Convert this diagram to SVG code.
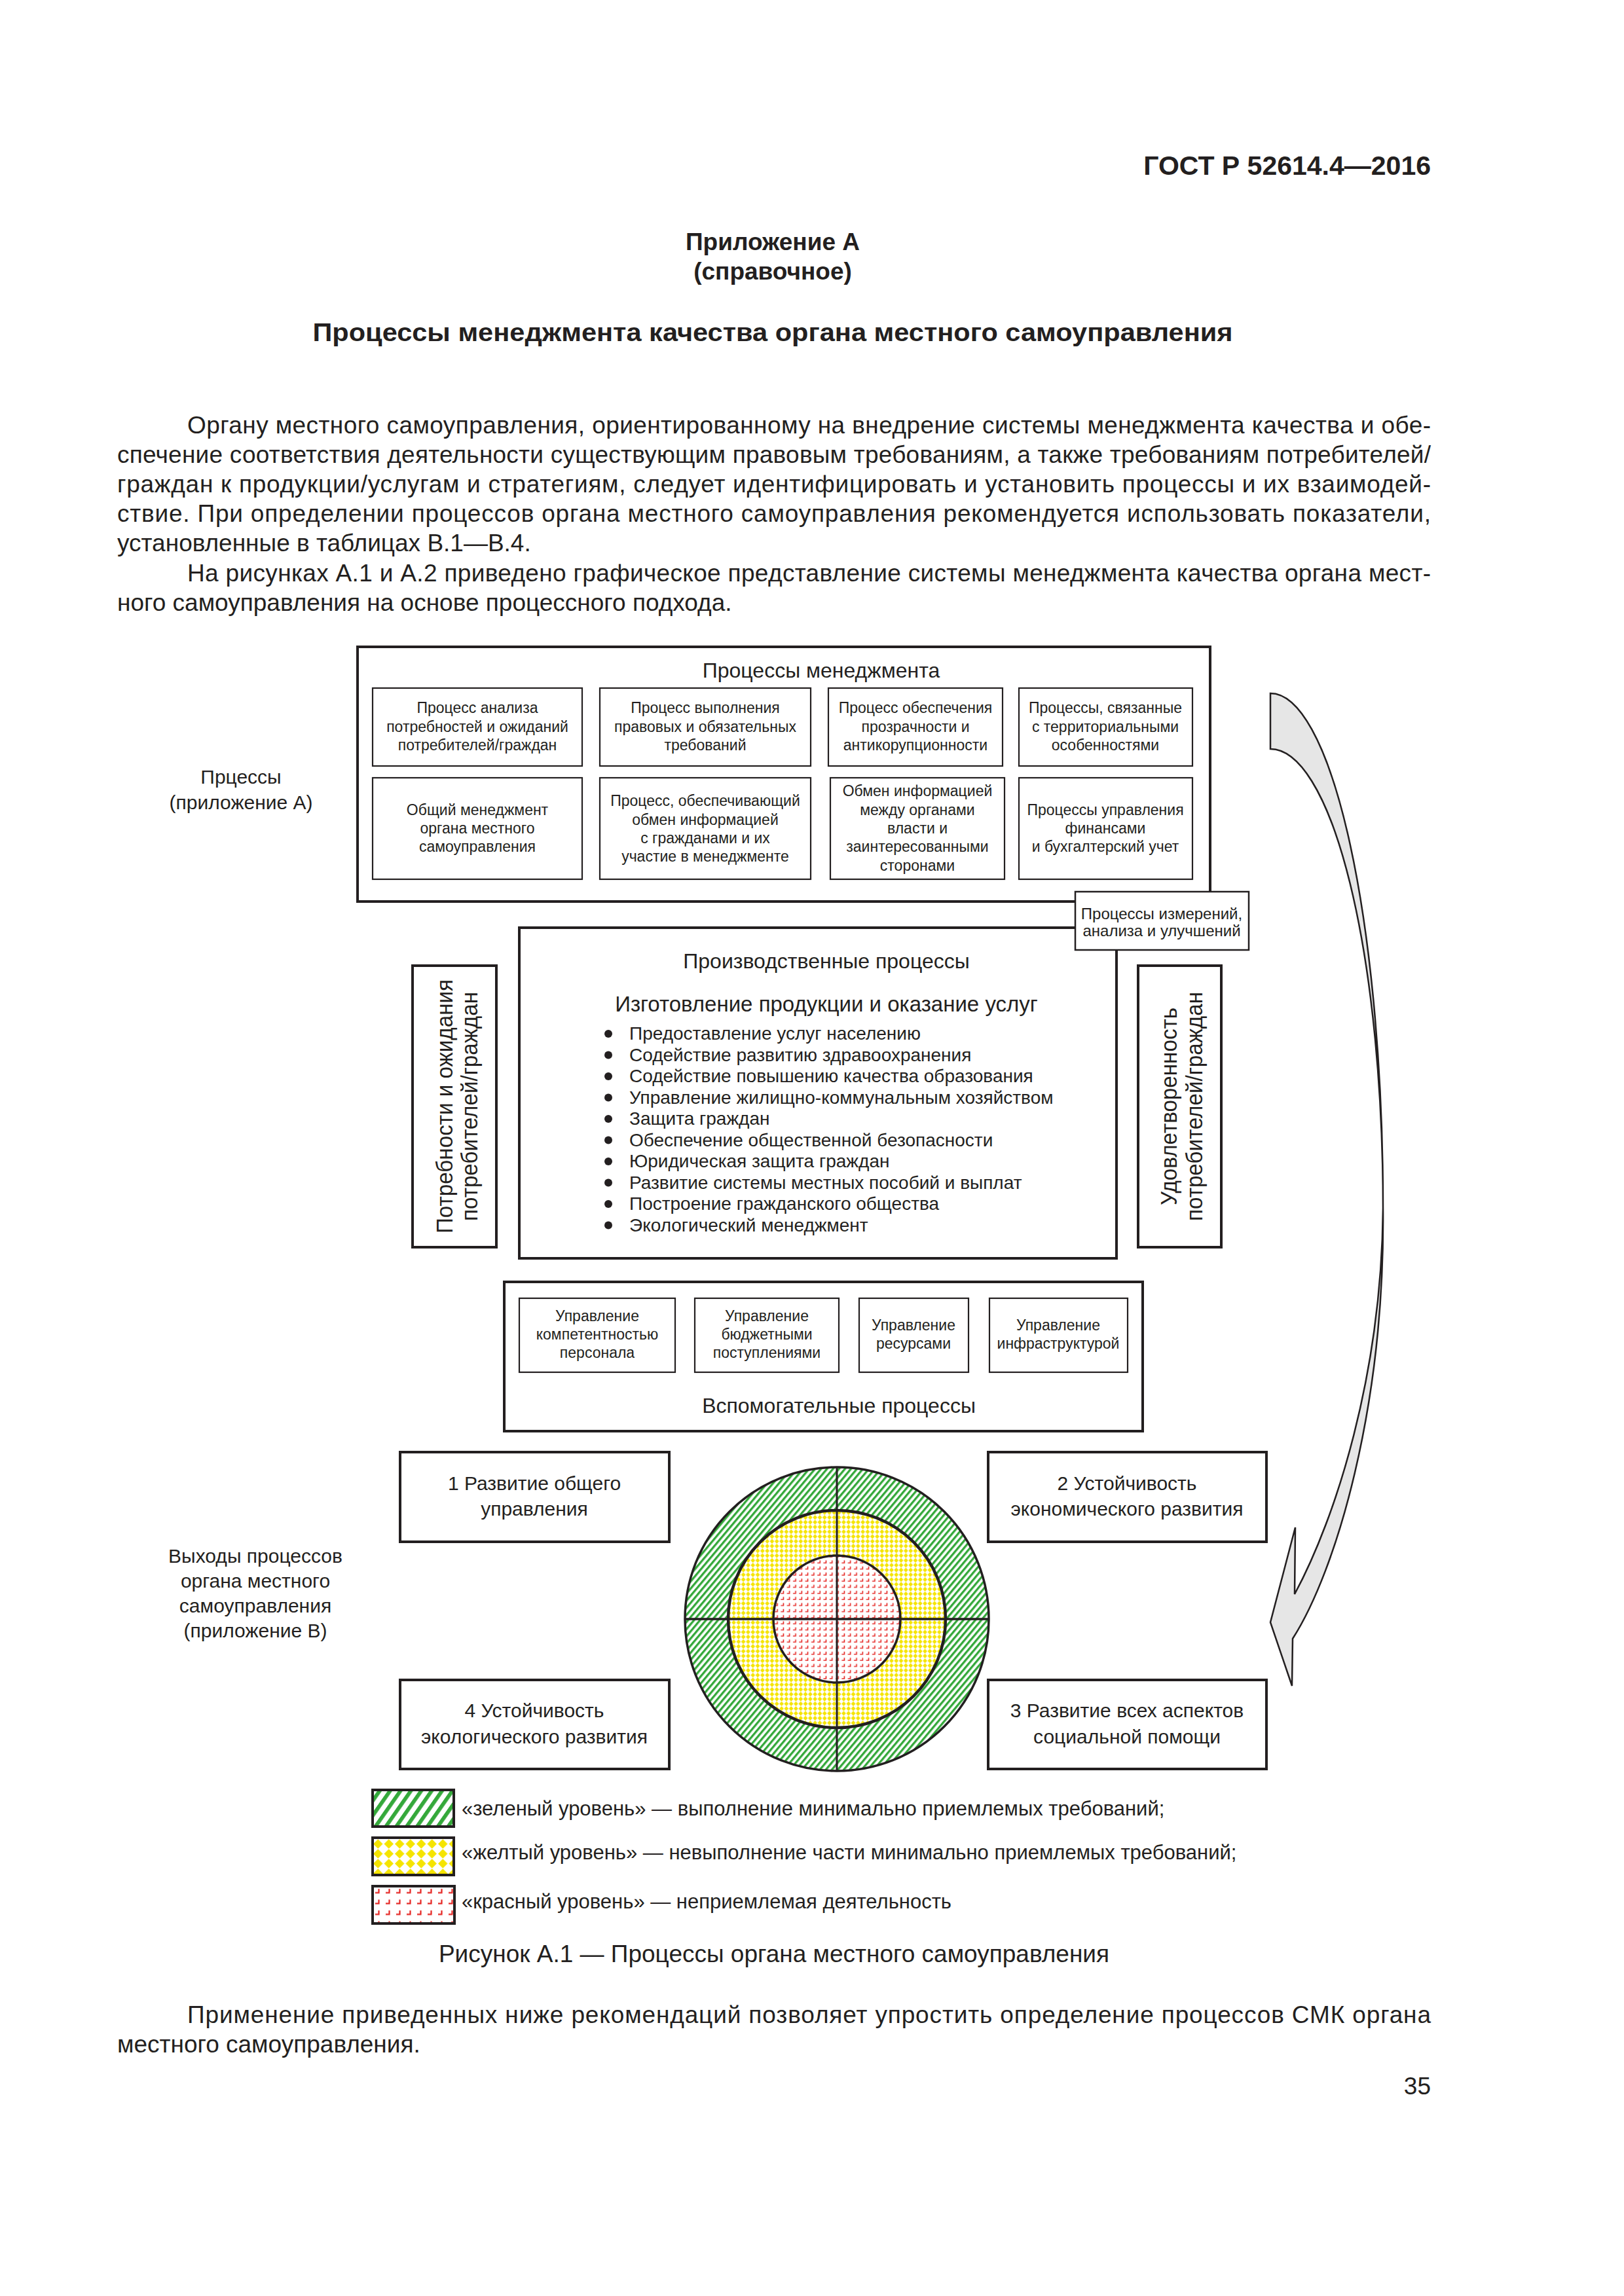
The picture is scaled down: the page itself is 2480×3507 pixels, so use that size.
<svg xmlns="http://www.w3.org/2000/svg" width="2480" height="3507" viewBox="0 0 2480 3507">
<style>
text{font-family:"Liberation Sans",Arial,Helvetica,sans-serif;fill:#231f20}
.m{text-anchor:middle}
.e{text-anchor:end}
.bd{font-weight:bold}
.f23{font-size:23px}
.f24{font-size:24px}
.f28{font-size:28px}
.f30{font-size:30px}
.f31{font-size:31px}
.f32{font-size:32px}
.f37{font-size:37px}
.big{fill:#fff;stroke:#231f20;stroke-width:4}
.sm{fill:#fff;stroke:#231f20;stroke-width:2.2}
.ln{stroke:#231f20;fill:none}
</style>
<defs>
<pattern id="pg" width="7" height="7" patternUnits="userSpaceOnUse" patternTransform="rotate(40)"><rect width="7" height="7" fill="#fff"/><rect width="3.3" height="7" fill="#34a83a"/></pattern>
<pattern id="pgL" width="13" height="13" patternUnits="userSpaceOnUse" patternTransform="rotate(35)"><rect width="13" height="13" fill="#fff"/><rect width="5.8" height="13" fill="#34a83a"/></pattern>
<pattern id="py" width="7.3" height="7.3" patternUnits="userSpaceOnUse"><rect width="7.3" height="7.3" fill="#fff"/><polygon points="3.65,0 7.1,3.65 3.65,7.3 0.2,3.65" fill="#f5e400"/></pattern>
<pattern id="pyL" width="16.5" height="15" patternUnits="userSpaceOnUse" x="569" y="2809"><rect width="16.5" height="15" fill="#fff"/><polygon points="8.25,0.3 15.5,7.5 8.25,14.7 1,7.5" fill="#f5e400"/></pattern>
<pattern id="pr" width="9.3" height="9.3" patternUnits="userSpaceOnUse"><rect width="9.3" height="9.3" fill="#fff"/><path d="M2,6.5 H6 V2.5" fill="none" stroke="#e52421" stroke-width="1.6"/></pattern>
<pattern id="prL" width="16" height="16.5" patternUnits="userSpaceOnUse" x="569" y="2880"><rect width="16" height="16.5" fill="#fff"/><path d="M4,11 H9.5 V5" fill="none" stroke="#e52421" stroke-width="2.2"/></pattern>
</defs>
<rect width="2480" height="3507" fill="#fff"/>

<g id="page-text">
<text class="bd e" x="2185" y="267" style="font-size:41px">ГОСТ Р 52614.4—2016</text>
<text class="bd m f37" x="1180" y="382">Приложение А</text>
<text class="bd m f37" x="1180" y="427">(справочное)</text>
<text class="bd m" x="1180" y="521" style="font-size:38px" textLength="1405" lengthAdjust="spacingAndGlyphs">Процессы менеджмента качества органа местного самоуправления</text>
<text class="f37" x="286" y="662" textLength="1899" lengthAdjust="spacing">Органу местного самоуправления, ориентированному на внедрение системы менеджмента качества и обе-</text>
<text class="f37" x="179" y="707" textLength="2006" lengthAdjust="spacing">спечение соответствия деятельности существующим правовым требованиям, а также требованиям потребителей/</text>
<text class="f37" x="179" y="752" textLength="2006" lengthAdjust="spacing">граждан к продукции/услугам и стратегиям, следует идентифицировать и установить процессы и их взаимодей-</text>
<text class="f37" x="179" y="797" textLength="2006" lengthAdjust="spacing">ствие. При определении процессов органа местного самоуправления рекомендуется использовать показатели,</text>
<text class="f37" x="179" y="842">установленные в таблицах В.1—В.4.</text>
<text class="f37" x="286" y="888" textLength="1899" lengthAdjust="spacing">На рисунках А.1 и А.2 приведено графическое представление системы менеджмента качества органа мест-</text>
<text class="f37" x="179" y="933">ного самоуправления на основе процессного подхода.</text>
<text class="f37" x="286" y="3090" textLength="1899" lengthAdjust="spacing">Применение приведенных ниже рекомендаций позволяет упростить определение процессов СМК органа</text>
<text class="f37" x="179" y="3135">местного самоуправления.</text>
<text class="f37 e" x="2185" y="3199">35</text>
<text class="f37 m" x="1182" y="2997">Рисунок А.1 — Процессы органа местного самоуправления</text>
</g>

<g id="connectors">
<path d="M1940,1059 A172,786 0 0 1 2112,1845 A172,701 0 0 0 1940,1144 Z" fill="#e6e6e6" stroke="#231f20" stroke-width="2.5" stroke-linejoin="miter"/>
<path d="M1974,2503 C2040,2400 2115,2150 2112,1845 C2110,2100 2040,2318 1977,2435 L1978,2333 L1940,2478 L1973,2575 Z" fill="#e6e6e6" stroke="#231f20" stroke-width="2.5"/>
</g>

<g id="label-processes">
<text class="f30 m" x="368" y="1197">Прцессы</text>
<text class="f30 m" x="368" y="1236">(приложение А)</text>
</g>

<g id="management">
<rect class="big" x="546" y="988" width="1302" height="389"/>
<text class="f32 m" x="1254" y="1035">Процессы менеджмента</text>
</g>
<g id="m1"><rect class="sm" x="569" y="1051" width="320" height="119"/>
<text class="f23 m" x="729" y="1089">Процесс анализа</text><text class="f23 m" x="729" y="1118">потребностей и ожиданий</text><text class="f23 m" x="729" y="1146">потребителей/граждан</text></g>
<g id="m2"><rect class="sm" x="916" y="1051" width="322" height="119"/>
<text class="f23 m" x="1077" y="1089">Процесс выполнения</text><text class="f23 m" x="1077" y="1118">правовых и обязательных</text><text class="f23 m" x="1077" y="1146">требований</text></g>
<g id="m3"><rect class="sm" x="1265" y="1051" width="266" height="119"/>
<text class="f23 m" x="1398" y="1089">Процесс обеспечения</text><text class="f23 m" x="1398" y="1118">прозрачности и</text><text class="f23 m" x="1398" y="1146">антикорупционности</text></g>
<g id="m4"><rect class="sm" x="1556" y="1051" width="265" height="119"/>
<text class="f23 m" x="1688" y="1089">Процессы, связанные</text><text class="f23 m" x="1688" y="1118">с территориальными</text><text class="f23 m" x="1688" y="1146">особенностями</text></g>
<g id="m5"><rect class="sm" x="569" y="1188" width="320" height="155"/>
<text class="f23 m" x="729" y="1245">Общий менеджмент</text><text class="f23 m" x="729" y="1273">органа местного</text><text class="f23 m" x="729" y="1301">самоуправления</text></g>
<g id="m6"><rect class="sm" x="916" y="1188" width="322" height="155"/>
<text class="f23 m" x="1077" y="1231">Процесс, обеспечивающий</text><text class="f23 m" x="1077" y="1260">обмен информацией</text><text class="f23 m" x="1077" y="1288">с гражданами и их</text><text class="f23 m" x="1077" y="1316">участие в менеджменте</text></g>
<g id="m7"><rect class="sm" x="1268" y="1188" width="266" height="155"/>
<text class="f23 m" x="1401" y="1216">Обмен информацией</text><text class="f23 m" x="1401" y="1245">между органами</text><text class="f23 m" x="1401" y="1273">власти и</text><text class="f23 m" x="1401" y="1301">заинтересованными</text><text class="f23 m" x="1401" y="1330">сторонами</text></g>
<g id="m8"><rect class="sm" x="1556" y="1188" width="265" height="155"/>
<text class="f23 m" x="1688" y="1245">Процессы управления</text><text class="f23 m" x="1688" y="1273">финансами</text><text class="f23 m" x="1688" y="1301">и бухгалтерский учет</text></g>

<g id="production">
<rect class="big" x="793" y="1417" width="912" height="505"/>
<text class="f32 m" x="1262" y="1479">Производственные процессы</text>
<text class="m" x="1262" y="1545" style="font-size:33px">Изготовление продукции и оказание услуг</text>
<g fill="#231f20">
<circle cx="929" cy="1579" r="6"/><circle cx="929" cy="1611.5" r="6"/><circle cx="929" cy="1644" r="6"/><circle cx="929" cy="1676.5" r="6"/><circle cx="929" cy="1709" r="6"/><circle cx="929" cy="1741.5" r="6"/><circle cx="929" cy="1774" r="6"/><circle cx="929" cy="1806.5" r="6"/><circle cx="929" cy="1839" r="6"/><circle cx="929" cy="1871.5" r="6"/>
</g>
<text class="f28" x="961" y="1588">Предоставление услуг населению</text>
<text class="f28" x="961" y="1620.5">Содействие развитию здравоохранения</text>
<text class="f28" x="961" y="1653">Содействие повышению качества образования</text>
<text class="f28" x="961" y="1685.5">Управление жилищно-коммунальным хозяйством</text>
<text class="f28" x="961" y="1718">Защита граждан</text>
<text class="f28" x="961" y="1750.5">Обеспечение общественной безопасности</text>
<text class="f28" x="961" y="1783">Юридическая защита граждан</text>
<text class="f28" x="961" y="1815.5">Развитие системы местных пособий и выплат</text>
<text class="f28" x="961" y="1848">Построение гражданского общества</text>
<text class="f28" x="961" y="1880.5">Экологический менеджмент</text>
</g>

<g id="measurement">
<rect class="sm" x="1642" y="1362" width="265" height="89" style="stroke-width:2.5"/>
<text class="f24 m" x="1774" y="1404">Процессы измерений,</text>
<text class="f24 m" x="1774" y="1430">анализа и улучшений</text>
</g>

<g id="needs">
<rect class="big" x="630" y="1475" width="128" height="430"/>
<text class="m" transform="translate(691,1690) rotate(-90)" style="font-size:35px" textLength="388" lengthAdjust="spacingAndGlyphs">Потребности и ожидания</text>
<text class="m" transform="translate(729,1690) rotate(-90)" style="font-size:35px" textLength="350" lengthAdjust="spacingAndGlyphs">потребителей/граждан</text>
</g>
<g id="satisfaction">
<rect class="big" x="1738" y="1475" width="127" height="430"/>
<text class="m" transform="translate(1797,1690) rotate(-90)" style="font-size:35px" textLength="302" lengthAdjust="spacingAndGlyphs">Удовлетворенность</text>
<text class="m" transform="translate(1836,1690) rotate(-90)" style="font-size:35px" textLength="350" lengthAdjust="spacingAndGlyphs">потребителей/граждан</text>
</g>

<g id="support">
<rect class="big" x="770" y="1958" width="975" height="228"/>
<text class="f32 m" x="1281" y="2158">Вспомогательные процессы</text>
</g>
<g id="s1"><rect class="sm" x="793" y="1983" width="238" height="113"/>
<text class="f23 m" x="912" y="2018">Управление</text><text class="f23 m" x="912" y="2046">компетентностью</text><text class="f23 m" x="912" y="2074">персонала</text></g>
<g id="s2"><rect class="sm" x="1061" y="1983" width="220" height="113"/>
<text class="f23 m" x="1171" y="2018">Управление</text><text class="f23 m" x="1171" y="2046">бюджетными</text><text class="f23 m" x="1171" y="2074">поступлениями</text></g>
<g id="s3"><rect class="sm" x="1312" y="1983" width="167" height="113"/>
<text class="f23 m" x="1395" y="2032">Управление</text><text class="f23 m" x="1395" y="2060">ресурсами</text></g>
<g id="s4"><rect class="sm" x="1511" y="1983" width="211" height="113"/>
<text class="f23 m" x="1616" y="2032">Управление</text><text class="f23 m" x="1616" y="2060">инфраструктурой</text></g>

<g id="label-outputs">
<text class="f30 m" x="390" y="2387">Выходы процессов</text>
<text class="f30 m" x="390" y="2425">органа местного</text>
<text class="f30 m" x="390" y="2463">самоуправления</text>
<text class="f30 m" x="390" y="2501">(приложение В)</text>
</g>

<g id="o1"><rect class="big" x="611" y="2218" width="411" height="137"/>
<text class="f30 m" x="816" y="2276">1 Развитие общего</text><text class="f30 m" x="816" y="2315">управления</text></g>
<g id="o2"><rect class="big" x="1509" y="2218" width="425" height="137"/>
<text class="f30 m" x="1721" y="2276">2 Устойчивость</text><text class="f30 m" x="1721" y="2315">экономического развития</text></g>
<g id="o3"><rect class="big" x="1509" y="2566" width="425" height="136"/>
<text class="f30 m" x="1721" y="2623">3 Развитие всех аспектов</text><text class="f30 m" x="1721" y="2663">социальной помощи</text></g>
<g id="o4"><rect class="big" x="611" y="2566" width="411" height="136"/>
<text class="f30 m" x="816" y="2623">4 Устойчивость</text><text class="f30 m" x="816" y="2663">экологического развития</text></g>

<g id="levels">
<circle cx="1278" cy="2473" r="232" fill="url(#pg)" stroke="#231f20" stroke-width="3.5"/>
<circle cx="1278" cy="2473" r="166" fill="url(#py)" stroke="#231f20" stroke-width="4.5"/>
<circle cx="1278" cy="2473" r="97" fill="url(#pr)" stroke="#231f20" stroke-width="3.5"/>
<line class="ln" x1="1278" y1="2241" x2="1278" y2="2705" stroke-width="3"/>
<line class="ln" x1="1046" y1="2473" x2="1510" y2="2473" stroke-width="3.5"/>
</g>

<g id="legend">
<rect x="569" y="2734" width="124" height="56" fill="url(#pgL)" stroke="#231f20" stroke-width="4"/>
<rect x="569" y="2807" width="124" height="57" fill="url(#pyL)" stroke="#231f20" stroke-width="4"/>
<rect x="569" y="2881" width="125" height="57" fill="url(#prL)" stroke="#231f20" stroke-width="4"/>
<text class="f31" x="705" y="2773">«зеленый уровень» — выполнение минимально приемлемых требований;</text>
<text class="f31" x="705" y="2840">«желтый уровень» — невыполнение части минимально приемлемых требований;</text>
<text class="f31" x="705" y="2915">«красный уровень» — неприемлемая деятельность</text>
</g>
</svg>
